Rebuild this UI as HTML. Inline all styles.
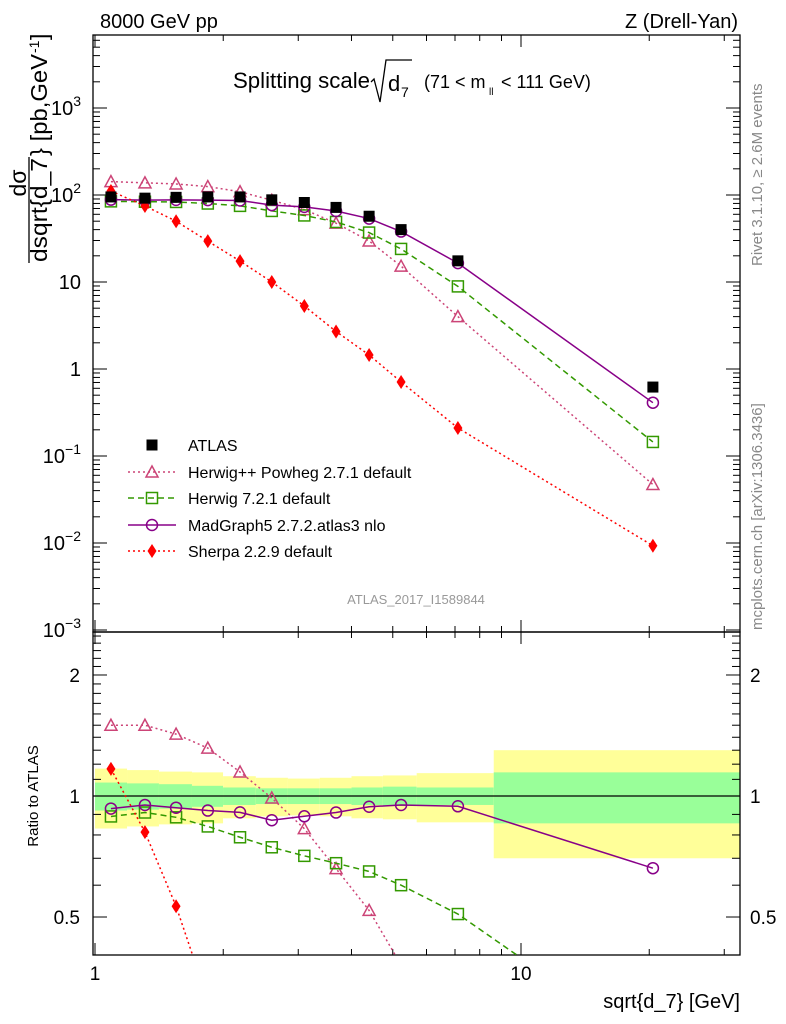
<!DOCTYPE html>
<html><head><meta charset="utf-8">
<style>
html,body{margin:0;padding:0;background:#fff;width:786px;height:1024px;overflow:hidden;}
svg{display:block;font-family:"Liberation Sans","DejaVu Sans",sans-serif;}
</style></head>
<body>
<svg id="chart" width="786" height="1024" viewBox="0 0 786 1024" xmlns="http://www.w3.org/2000/svg">
<g id="bands"></g>
<g id="axes"></g>
<g id="series"></g>
<text x="100" y="28" font-size="20">8000 GeV pp</text>
<text x="738" y="28" font-size="20" text-anchor="end">Z (Drell-Yan)</text>
<g>
<text x="233" y="88" font-size="22" textLength="137" lengthAdjust="spacingAndGlyphs">Splitting scale</text>
<path d="M371 82 L374 79 L380 102 L386 60 L412 60" fill="none" stroke="#000" stroke-width="1.3"/>
<text x="388" y="91" font-size="22">d</text><text x="401" y="97" font-size="14">7</text>
<text x="424" y="88" font-size="18">(71 &lt; m</text><text x="489" y="95" font-size="10">ll</text><text x="501" y="88" font-size="18">&lt; 111 GeV)</text>
</g>
<g>
<text transform="translate(26,183) rotate(-90)" font-size="23" text-anchor="middle">dσ</text>
<line x1="29" y1="157" x2="29" y2="263" stroke="#000" stroke-width="1.3"/>
<text transform="translate(47,262) rotate(-90)" font-size="23" textLength="104" lengthAdjust="spacingAndGlyphs">dsqrt{d_7</text>
<text transform="translate(47,156) rotate(-90)" font-size="23" textLength="102" lengthAdjust="spacingAndGlyphs">} [pb,GeV</text>
<text transform="translate(39,53) rotate(-90)" font-size="14">-1</text>
<text transform="translate(47,40) rotate(-90)" font-size="23">]</text>
</g>
<text transform="translate(38,796) rotate(-90)" font-size="15" text-anchor="middle">Ratio to ATLAS</text>
<text x="740" y="1008" font-size="20" text-anchor="end">sqrt{d_7} [GeV]</text>
<text transform="translate(762,266) rotate(-90)" font-size="15" fill="#888">Rivet 3.1.10, ≥ 2.6M events</text>
<text transform="translate(762,630) rotate(-90)" font-size="15" fill="#888">mcplots.cern.ch [arXiv:1306.3436]</text>
<text x="416" y="604" font-size="13" fill="#999" text-anchor="middle">ATLAS_2017_I1589844</text>
<g id="legend"></g>
</svg>
<script>
const xValues=[1.09,1.31,1.55,1.84,2.19,2.6,3.1,3.68,4.4,5.23,7.11,20.4];
const binEdges=[1.0,1.189,1.413,1.689,1.998,2.385,2.837,3.37,4.0,4.74,5.69,8.63,32.6];
const atlasValues=[95,92,94,95,95,88,82,72,57,40,17.5,0.62];
const totUnc=[0.17,0.16,0.15,0.145,0.12,0.11,0.105,0.11,0.12,0.125,0.14,0.30];
const statUnc=[0.08,0.075,0.07,0.06,0.05,0.045,0.045,0.045,0.05,0.055,0.05,0.145];
const herwigppValues=[142.5,138,134,125,109,87,68,47.5,29.6,15.2,4.0,0.047];
const herwig7Values=[84.5,83.7,83.2,79.8,75,65.6,58.2,49,37,24,8.9,0.145];
const madgraphValues=[88.4,87.4,87.9,87.4,86.5,76.6,73,65.5,53.6,38,16.5,0.41];
const sherpaValues=[111,74.8,50,29.5,17.4,10,5.3,2.7,1.45,0.71,0.21,0.0093];
const mainYTicks=[0.001,0.01,0.1,1,10,100,1000];
const mainYLabels=["10^−3","10^−2","10^−1","1","10","10^2","10^3"];
const ratioTicks=[0.5,1,2];
const ratioLabels=["0.5","1","2"];
const xTicks=[1,10];
const xLabels=["1","10"];

const NS="http://www.w3.org/2000/svg";
const L=93,R=740,MT=35,MB=632,RT=632,RB=955;
const X=v=>95+426*Math.log10(v);
const YM=v=>369-87*Math.log10(v);
const YR=v=>796-402*Math.log10(v);
function mk(tag,attrs,parent){const e=document.createElementNS(NS,tag);for(const k in attrs)e.setAttribute(k,attrs[k]);parent.appendChild(e);return e;}
const bands=document.getElementById('bands'),axes=document.getElementById('axes'),series=document.getElementById('series'),legend=document.getElementById('legend');

for(let i=0;i<atlasValues.length;i++){
  const x1=Math.max(X(binEdges[i]),L+1),x2=Math.min(X(binEdges[i+1]),R);
  const y=mk('rect',{x:x1,y:YR(1+totUnc[i]),width:x2-x1,height:YR(1-totUnc[i])-YR(1+totUnc[i]),fill:'#ffff99'},bands);
  
  
  const g=mk('rect',{x:x1,y:YR(1+statUnc[i]),width:x2-x1,height:YR(1-statUnc[i])-YR(1+statUnc[i]),fill:'#99ff99'},bands);
  
  
}
mk('line',{x1:L,y1:YR(1),x2:R,y2:YR(1),stroke:'#000','stroke-width':1.3},bands);

mk('rect',{x:L,y:MT,width:R-L,height:MB-MT,fill:'none',stroke:'#000','stroke-width':1.3},axes);
mk('rect',{x:L,y:RT,width:R-L,height:RB-RT,fill:'none',stroke:'#000','stroke-width':1.3},axes);
for(let d=1;d<=30;d+=(d<10?1:10)){
  const x=X(d); if(x<L||x>R)continue;
  const major=(d===1||d===10);const len=major?12:6;
  [[MT,1],[MB,-1],[RT,1],[RB,-1]].forEach(([y,s])=>mk('line',{x1:x,y1:y,x2:x,y2:y+s*len,stroke:'#000','stroke-width':1},axes));
}
xTicks.forEach((v,i)=>{const t=mk('text',{x:X(v),y:980,'font-size':19,'text-anchor':'middle'},axes);t.textContent=xLabels[i];

});
for(let e=-3;e<=3;e++){for(let m=1;m<10;m++){const v=m*Math.pow(10,e);const y=YM(v);if(y<MT||y>MB)continue;const len=m===1?14:7;
mk('line',{x1:L,y1:y,x2:L+len,y2:y,stroke:'#000','stroke-width':1},axes);mk('line',{x1:R,y1:y,x2:R-len,y2:y,stroke:'#000','stroke-width':1},axes);}}
mainYTicks.forEach((v,i)=>{const lab=mainYLabels[i];const y=YM(v)+7;
 const t=mk('text',{x:81,y:y,'font-size':20,'text-anchor':'end'},axes);
 
 
 if(lab.includes('^')){const [b,p]=lab.split('^');const s0=mk('tspan',{},t);s0.textContent=b;
  const s=mk('tspan',{dy:-9,'font-size':14},t);s.textContent=p;}else{t.textContent=lab;}});
for(let k=4;k<=26;k++){const vv=k/10;const y=YR(vv);if(y<RT+2||y>RB-2)continue;
 const major=ratioTicks.includes(vv);const len=major?14:8;
 mk('line',{x1:L,y1:y,x2:L+len,y2:y,stroke:'#000','stroke-width':1},axes);mk('line',{x1:R,y1:y,x2:R-len,y2:y,stroke:'#000','stroke-width':1},axes);}
ratioTicks.forEach((v,i)=>{[[80,'end'],[750,'start']].forEach(([x,a])=>{const t=mk('text',{x:x,y:YR(v)+7,'font-size':19,'text-anchor':a},axes);t.textContent=ratioLabels[i];

});});

function marker(type,x,y,color,parent){
 if(type==='square')return mk('rect',{x:x-5.5,y:y-5.5,width:11,height:11,fill:color},parent);
 if(type==='osquare')return mk('rect',{x:x-5.5,y:y-5.5,width:11,height:11,fill:'none',stroke:color,'stroke-width':1.5},parent);
 if(type==='tri')return mk('path',{d:`M${x} ${y-6} L${x+6} ${y+5} L${x-6} ${y+5} Z`,fill:'none',stroke:color,'stroke-width':1.5},parent);
 if(type==='circ')return mk('circle',{cx:x,cy:y,r:5.5,fill:'none',stroke:color,'stroke-width':1.5},parent);
 if(type==='diam')return mk('path',{d:`M${x} ${y-7} L${x+4.5} ${y} L${x} ${y+7} L${x-4.5} ${y} Z`,fill:color},parent);
}
const models=[
 {name:'herwigpp',label:'Herwig++ Powheg 2.7.1 default',vals:herwigppValues,color:'#cc4477',dash:'2,3',m:'tri'},
 {name:'herwig7',label:'Herwig 7.2.1 default',vals:herwig7Values,color:'#339900',dash:'6,4',m:'osquare'},
 {name:'madgraph',label:'MadGraph5 2.7.2.atlas3 nlo',vals:madgraphValues,color:'#880088',dash:'',m:'circ'},
 {name:'sherpa',label:'Sherpa 2.2.9 default',vals:sherpaValues,color:'#ff0000',dash:'2,3',m:'diam'}];
const defs=mk('defs',{},series);const cp=mk('clipPath',{id:'rclip'},defs);mk('rect',{x:L,y:RT,width:R-L,height:RB-RT},cp);
models.forEach(md=>{
 const g=mk('g',{},series);
 
 
 const pts=xValues.map((x,i)=>[X(x),YM(md.vals[i])]);
 mk('polyline',{points:pts.map(p=>p.join(',')).join(' '),fill:'none',stroke:md.color,'stroke-width':1.5,'stroke-dasharray':md.dash},g);
 pts.forEach(p=>{const e=marker(md.m,p[0],p[1],md.color,g);
 
 });
 const gr=mk('g',{'clip-path':'url(#rclip)'},series);
 
 
 const rp=xValues.map((x,i)=>[X(x),YR(md.vals[i]/atlasValues[i])]);
 mk('polyline',{points:rp.map(p=>p.join(',')).join(' '),fill:'none',stroke:md.color,'stroke-width':1.5,'stroke-dasharray':md.dash},gr);
 rp.forEach(p=>{const e=marker(md.m,p[0],p[1],md.color,gr);
 
 });
});
xValues.forEach((x,i)=>{const e=marker('square',X(x),YM(atlasValues[i]),'#000',series);

});

const ly=[445,472,498,525,551];
const le0=mk('g',{},legend);


marker('square',152,ly[0],'#000',le0);
const t0=mk('text',{x:188,y:ly[0]+6,'font-size':16},le0);t0.textContent='ATLAS';
models.forEach((md,i)=>{const g=mk('g',{},legend);
 
 
 const y=ly[i+1];
 mk('line',{x1:128,y1:y,x2:176,y2:y,stroke:md.color,'stroke-width':1.5,'stroke-dasharray':md.dash},g);
 marker(md.m,152,y,md.color,g);
 const t=mk('text',{x:188,y:y+6,'font-size':16},g);t.textContent=md.label;});
</script>
</body></html>
